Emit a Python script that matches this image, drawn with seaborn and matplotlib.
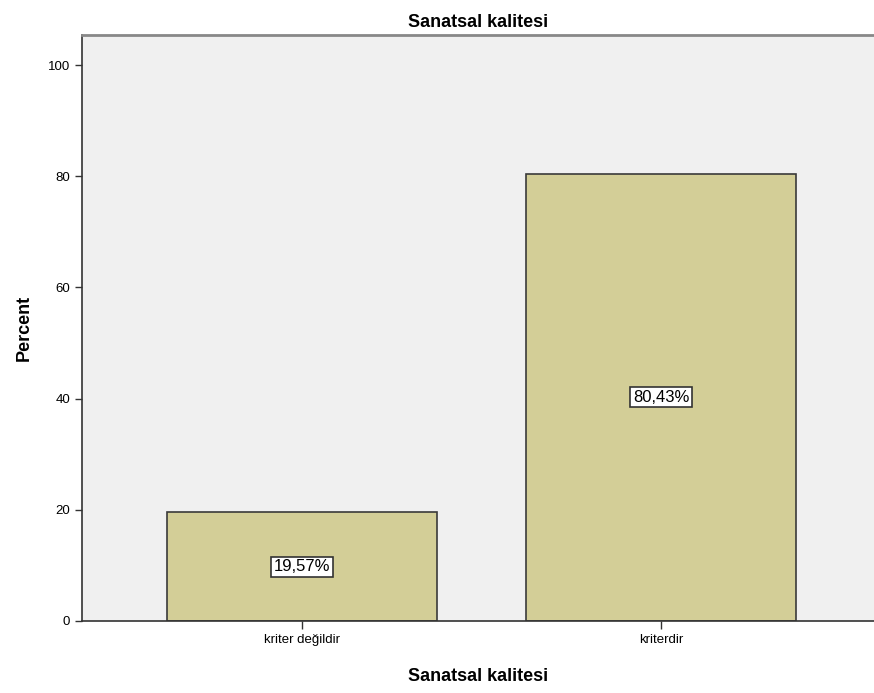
import matplotlib
matplotlib.use("Agg")
import matplotlib.pyplot as plt
import seaborn as sns
import pandas as pd

categories = ["kriter değildir", "kriterdir"]
percents = [19.57, 80.43]
yticks = [0, 20, 40, 60, 80, 100]

sns.set_theme(style="white")
plt.rcParams["font.family"] = ["Liberation Sans", "DejaVu Sans"]
plt.rcParams["text.color"] = "black"
plt.rcParams["axes.labelcolor"] = "black"
plt.rcParams["xtick.color"] = "black"
plt.rcParams["ytick.color"] = "black"

df = pd.DataFrame({"category": categories, "percent": percents})

fig = plt.figure(figsize=(8.74, 6.93), dpi=100)
ax = fig.add_axes([0.0938, 0.1039, 0.9062, 0.8456])
ax.set_facecolor("#F0F0F0")

sns.barplot(data=df, x="category", y="percent", order=categories,
            color="#D3CE97", saturation=1, width=0.75,
            edgecolor="#3A3A3A", linewidth=1.2, ax=ax)

ax.bar_label(ax.containers[0], labels=[f"{v:.2f}%".replace(".", ",") for v in percents],
             label_type="center", fontsize=12, color="black",
             bbox=dict(boxstyle="square,pad=0.15", facecolor="white", edgecolor="#333333", linewidth=1.2))

ax.set_xlim(-0.613, 1.593)
ax.set_ylim(0, 105.4)
ax.set_yticks(yticks)
ax.set_yticklabels([str(t) for t in yticks], fontsize=9.5)
ax.tick_params(axis="x", labelsize=9.5, length=6, width=1, color="#333333", direction="out", bottom=True)
ax.tick_params(axis="y", length=5, width=1, color="#333333", direction="out", left=True)

for s in ["left", "bottom"]:
    ax.spines[s].set_color("#333333")
    ax.spines[s].set_linewidth(1.2)
ax.spines["top"].set_color("#888888")
ax.spines["top"].set_linewidth(2)
ax.spines["right"].set_visible(False)

ax.set_title("Sanatsal kalitesi", fontsize=13, fontweight="bold", pad=6)
ax.set_xlabel("Sanatsal kalitesi", fontsize=13, fontweight="bold", labelpad=16)
ax.set_ylabel("Percent", fontsize=13, fontweight="bold", labelpad=11)

fig.savefig("out.png", dpi=100)
